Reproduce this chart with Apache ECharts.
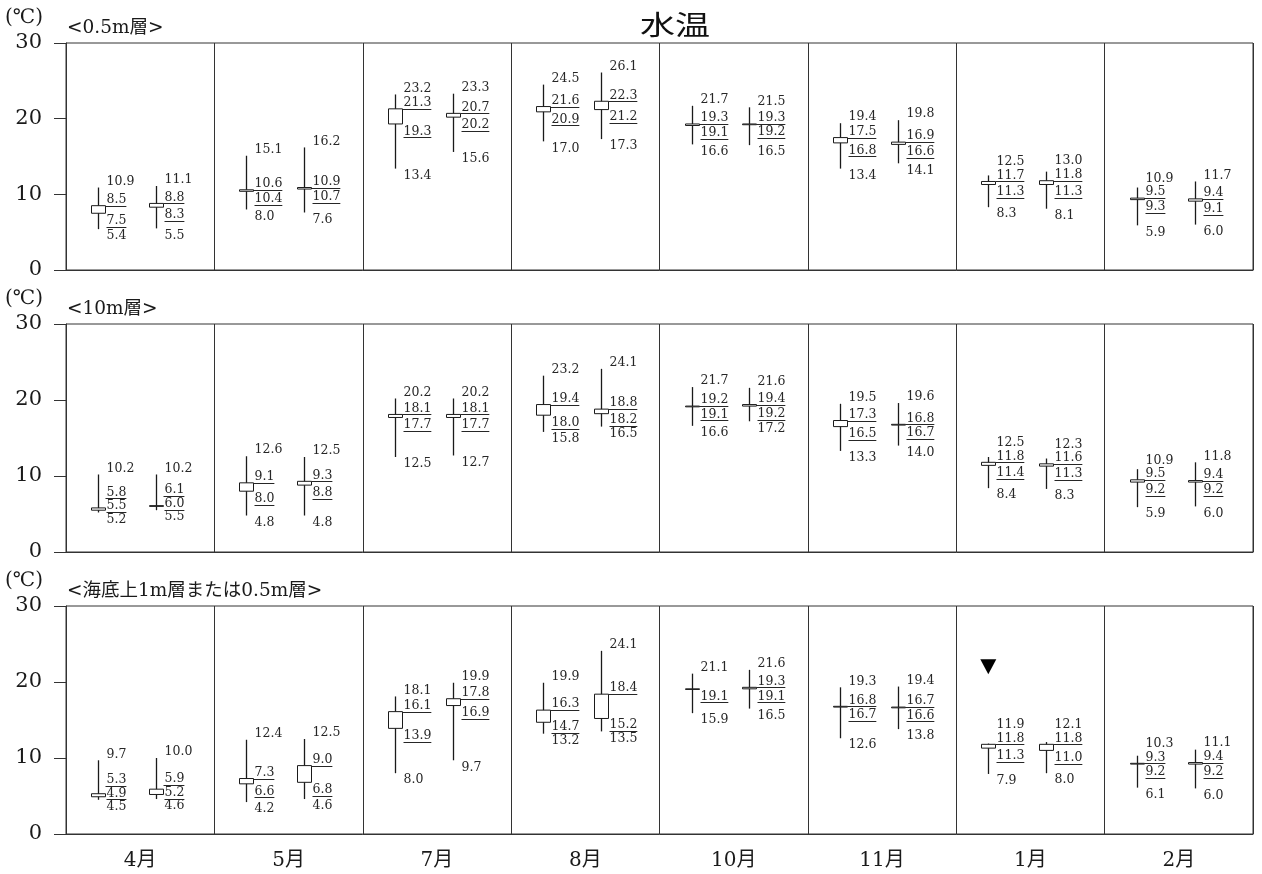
<!DOCTYPE html>
<html><head><meta charset="utf-8">
<script src="https://cdn.jsdelivr.net/npm/echarts@6/dist/echarts.min.js"></script>
<style>html,body{margin:0;padding:0;background:#fff}#c{width:1262px;height:874px}</style>
</head><body><div id="c"></div>
<script>
// ---------- data ----------
const months = ['4月','5月','7月','8月','10月','11月','1月','2月'];
const chartTitle = '水温';
const unitLabel = '(℃)';
const panelTitles = ['<0.5m層>', '<10m層>', '<海底上1m層または0.5m層>'];
const yMin = 0, yMax = 30, yStep = 10;

// each row: [max, upper, lower, min]
const surfaceA = [[10.9,8.5,7.5,5.4],[15.1,10.6,10.4,8.0],[23.2,21.3,19.3,13.4],[24.5,21.6,20.9,17.0],[21.7,19.3,19.1,16.6],[19.4,17.5,16.8,13.4],[12.5,11.7,11.3,8.3],[10.9,9.5,9.3,5.9]];
const surfaceB = [[11.1,8.8,8.3,5.5],[16.2,10.9,10.7,7.6],[23.3,20.7,20.2,15.6],[26.1,22.3,21.2,17.3],[21.5,19.3,19.2,16.5],[19.8,16.9,16.6,14.1],[13.0,11.8,11.3,8.1],[11.7,9.4,9.1,6.0]];
const m10A = [[10.2,5.8,5.5,5.2],[12.6,9.1,8.0,4.8],[20.2,18.1,17.7,12.5],[23.2,19.4,18.0,15.8],[21.7,19.2,19.1,16.6],[19.5,17.3,16.5,13.3],[12.5,11.8,11.4,8.4],[10.9,9.5,9.2,5.9]];
const m10B = [[10.2,6.1,6.0,5.5],[12.5,9.3,8.8,4.8],[20.2,18.1,17.7,12.7],[24.1,18.8,18.2,16.5],[21.6,19.4,19.2,17.2],[19.6,16.8,16.7,14.0],[12.3,11.6,11.3,8.3],[11.8,9.4,9.2,6.0]];
const bottomA = [[9.7,5.3,4.9,4.5],[12.4,7.3,6.6,4.2],[18.1,16.1,13.9,8.0],[19.9,16.3,14.7,13.2],[21.1,19.1,19.1,15.9],[19.3,16.8,16.7,12.6],[11.9,11.8,11.3,7.9],[10.3,9.3,9.2,6.1]];
const bottomB = [[10.0,5.9,5.2,4.6],[12.5,9.0,6.8,4.6],[19.9,17.8,16.9,9.7],[24.1,18.4,15.2,13.5],[21.6,19.3,19.1,16.5],[19.4,16.7,16.6,13.8],[12.1,11.8,11.0,8.0],[11.1,9.4,9.2,6.0]];
// annotation marker (▼) in bottom panel: [month index, value]
const bottomMarker = [[6, 22.0]];

// ---------- layout / style ----------
const LEFT = 66, RIGHT = 9;
const gridTops = [43, 324, 606];
const gridHeights = [227, 228, 228];
const offA = -0.284, offB = 0.106;   // mark offsets within a month band (fraction of band width)
const SERIF = '"DejaVu Serif", "Noto Sans CJK JP", serif';
const LABEL_FONT = '12.5px "DejaVu Serif"';
const INK = '#1a1a1a';
const LINE = '#333';

const mctx = document.createElement('canvas').getContext('2d');
function textW(s){ mctx.font = LABEL_FONT; return mctx.measureText(s).width; }

function makeRender(offsetFrac){
  return function(params, api){
    const ci = api.value(0);
    const mx = api.value(1), up = api.value(2), lo = api.value(3), mn = api.value(4);
    const bw = api.size([1, 0])[0];
    const cx = Math.round(api.coord([ci, 0])[0] + offsetFrac * bw) + 0.5;
    const Y = v => api.coord([ci, v])[1];
    const children = [];
    children.push({type:'line', shape:{x1:cx, y1:Y(mx), x2:cx, y2:Y(mn)}, style:{stroke:INK, lineWidth:1.3}});
    const yt = Y(up), yb = Y(lo);
    children.push({type:'rect', shape:{x:cx-7, y:yt, width:14, height:Math.max(yb-yt, 0.6)}, style:{fill:'#fff', stroke:INK, lineWidth:1}});
    const GAP = 13.5;
    const minC = Y(mn) + 7;
    const loC = Math.min(Y(lo) + 7.5, minC - GAP);
    const showUp = up !== lo;
    const upC = showUp ? Math.min(Y(up) - 6, loC - GAP) : loC;
    const mxC = Math.min(Y(mx) - 6, upC - GAP);
    const lx = cx + 8;
    function lab(v, c, ul, ulStart){
      const s = v.toFixed(1);
      children.push({type:'text', style:{text:s, x:lx, y:c, font:LABEL_FONT, fill:'#262626', align:'left', verticalAlign:'middle'}});
      if (ul) {
        const yy = Math.round(c + 6) + 0.5;
        children.push({type:'line', shape:{x1:ulStart, y1:yy, x2:lx + textW(s), y2:yy}, style:{stroke:'#262626', lineWidth:1}});
      }
    }
    lab(mx, mxC, false);
    if (showUp) lab(up, upC, true, cx + 7);
    lab(lo, loC, true, lx);
    lab(mn, minC, false);
    return {type:'group', children};
  };
}
function renderMarker(params, api){
  const ci = api.value(0);
  const bw = api.size([1, 0])[0];
  const cx = api.coord([ci, 0])[0] + offA * bw;
  const cy = api.coord([ci, api.value(1)])[1];
  return {type:'polygon', shape:{points:[[cx-8, cy-7.5],[cx+8, cy-7.5],[cx, cy+7.5]]}, style:{fill:'#000'}};
}
const rows = arr => arr.map((r, i) => [i, ...r]);

const panels = [[surfaceA, surfaceB], [m10A, m10B], [bottomA, bottomB]];
const grids = [], xAxes = [], yAxes = [], series = [], graphic = [];
panels.forEach((p, k) => {
  grids.push({left:LEFT, right:RIGHT, top:gridTops[k], height:gridHeights[k], show:true, borderColor:LINE, borderWidth:1, backgroundColor:'transparent'});
  xAxes.push({type:'category', gridIndex:k, data:months, boundaryGap:true,
    axisLine:{show:true, lineStyle:{color:LINE}}, axisTick:{show:false},
    axisLabel:{show:k === 2, fontSize:20, fontFamily:SERIF, color:INK, margin:17},
    splitLine:{show:true, lineStyle:{color:LINE, width:1}}});
  yAxes.push({type:'value', gridIndex:k, min:yMin, max:yMax, interval:yStep,
    axisLine:{show:true, lineStyle:{color:LINE}}, axisTick:{show:true, length:12, lineStyle:{color:LINE}},
    axisLabel:{fontSize:21, fontFamily:'"DejaVu Serif"', color:INK, margin:24}, splitLine:{show:false}});
  series.push({type:'custom', xAxisIndex:k, yAxisIndex:k, renderItem:makeRender(offA), data:rows(p[0]), encode:{x:0, y:[1,4]}, clip:false, z:3});
  series.push({type:'custom', xAxisIndex:k, yAxisIndex:k, renderItem:makeRender(offB), data:rows(p[1]), encode:{x:0, y:[1,4]}, clip:false, z:3});
  graphic.push({type:'text', left:5, top:gridTops[k]-35, style:{text:unitLabel, font:'20px ' + SERIF, fill:INK}});
  graphic.push({type:'text', left:67, top:gridTops[k]-24, style:{text:panelTitles[k], font:'18.5px ' + SERIF, fill:INK}});
});
series.push({type:'custom', xAxisIndex:2, yAxisIndex:2, renderItem:renderMarker, data:bottomMarker, encode:{x:0, y:1}, clip:false, z:4});
graphic.push({type:'text', x:675, y:25, scaleX:1.3, style:{text:chartTitle, font:'27px "Noto Sans CJK JP"', fill:'#111', align:'center', verticalAlign:'middle'}});

const chart = echarts.init(document.getElementById('c'), null, {renderer:'canvas'});
chart.setOption({animation:false, backgroundColor:'#fff', grid:grids, xAxis:xAxes, yAxis:yAxes, series, graphic});
</script></body></html>
